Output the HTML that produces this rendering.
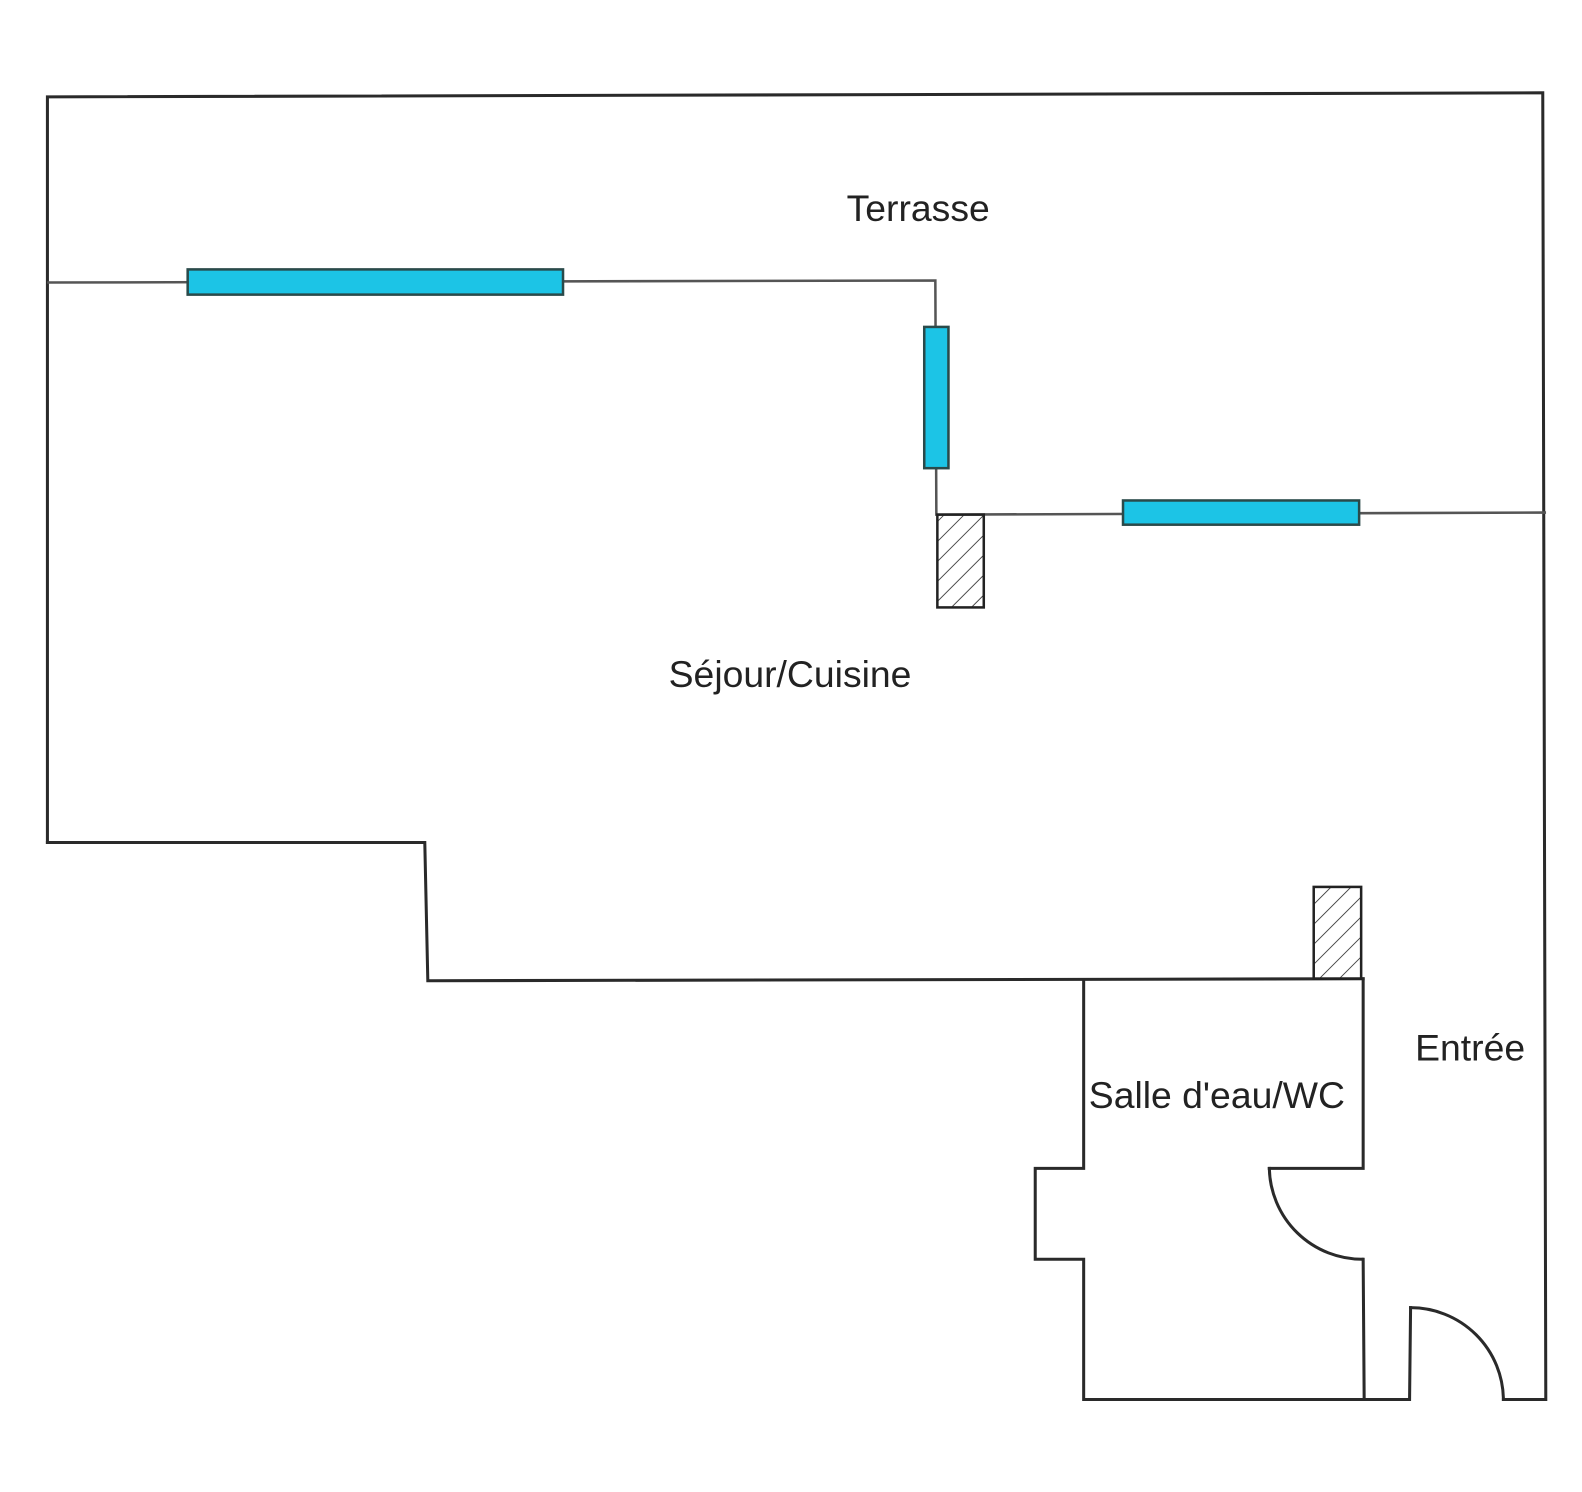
<!DOCTYPE html>
<html><head><meta charset="utf-8"><style>
html,body{margin:0;padding:0;background:#fff;}
svg{display:block;}
text{font-family:"Liberation Sans",sans-serif;fill:#222;}
</style></head><body>
<svg width="1582" height="1492" viewBox="0 0 1582 1492" xmlns="http://www.w3.org/2000/svg">
<defs>
<pattern id="h" patternUnits="userSpaceOnUse" width="14" height="14" patternTransform="rotate(45)">
<line x1="0" y1="0" x2="0" y2="14" stroke="#222" stroke-width="1.6"/>
</pattern>
</defs>
<g transform="scale(1.009)">
<g fill="none" stroke="#2a2a2a" stroke-width="3" stroke-linecap="square">
<polyline points="47,835 47,96 1529,92 1532,1387 1490,1387"/>
<polyline points="47,835 421,835 424,972 1351,970"/>
<polyline points="48,280 927,278 928,510 1531,508" stroke-width="2.5" stroke="#555"/>
<polyline points="1074,972 1074,1158 1026,1158 1026,1248 1074,1248 1074,1387 1397,1387 1398,1296"/>
<polyline points="1351,970 1351,1158 1258,1158"/>
<polyline points="1351,1248 1352,1387"/>
<path d="M1258,1158 A92,92 0 0 0 1350,1248"/>
<path d="M1398,1296 A92,92 0 0 1 1490,1387"/>
</g>
<g fill="#1cc4e6" stroke="#2a4a4a" stroke-width="2.5">
<rect x="186" y="267" width="372" height="25"/>
<rect x="916" y="324" width="24" height="140"/>
<rect x="1113" y="496" width="234" height="24"/>
</g>
<g stroke="#222" stroke-width="2.5">
<rect x="929" y="510" width="46" height="92" fill="url(#h)"/>
<rect x="1302" y="879" width="47" height="91" fill="url(#h)"/>
</g>
<text x="910" y="219" font-size="37" text-anchor="middle">Terrasse</text>
<text x="783" y="681" font-size="37" text-anchor="middle">Séjour/Cuisine</text>
<text x="1206" y="1098" font-size="37" text-anchor="middle">Salle d'eau/WC</text>
<text x="1457" y="1051" font-size="37" text-anchor="middle">Entrée</text>
</g>
</svg>
</body></html>
